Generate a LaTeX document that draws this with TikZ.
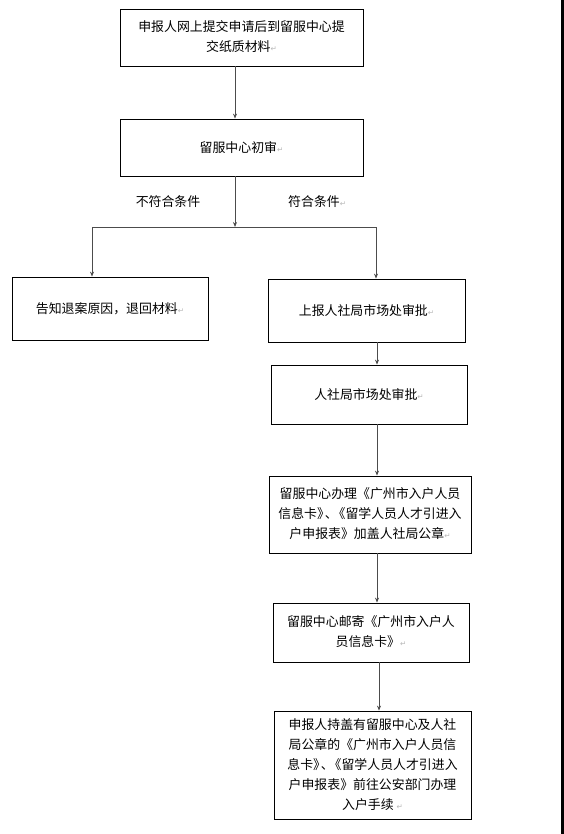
\documentclass[tikz,border=0pt]{standalone}
\usepackage{fontspec}
\usepackage{xcolor}
\usepackage{tikz}
\usetikzlibrary{positioning, arrows.meta}
\newfontfamily\cjk{Noto Sans CJK SC}
\newfontfamily\symfont{DejaVu Sans}
\newcommand{\retmark}{{\symfont\color{gray!55}\fontsize{7.5}{7.5}\selectfont ↵}}
\newcommand{\dunhao}{》\kern-.4em、\kern-.4em《}

\begin{document}
\begin{tikzpicture}[
    x=1pt, y=-1pt,
    proc/.style={rectangle, draw=black, line width=0.8pt, inner sep=0pt, text centered, font=\cjk\fontsize{12.9}{20}\selectfont},
    cond/.style={inner sep=0pt, font=\cjk\fontsize{12.9}{20}\selectfont},
    arr/.style={draw=black!70, line width=0.8pt, -{Stealth[length=5pt, width=4pt]}},
    link/.style={draw=black!70, line width=0.8pt}
]

\useasboundingbox (0,0) rectangle (564,834);
\fill[white] (0,0) rectangle (564,834);
\fill[black] (560.5,0) rectangle (564,834);

\node[proc, minimum width=243pt, minimum height=57pt] (submit) at (241.5, 37.5) {
    \begin{tabular}{@{}c@{}}
    申报人网上提交申请后到留服中心提 \\
    交纸质材料\retmark
    \end{tabular}
};

\node[proc, minimum width=243pt, minimum height=57pt] (check) at (241.5, 147.5) {留服中心初审\retmark};

\node[proc, minimum width=196pt, minimum height=63pt] (reject) at (110, 308.5) {告知退案原因，退回材料\retmark};

\node[proc, minimum width=197pt, minimum height=63pt] (report) at (366.5, 310.5) {上报人社局市场处审批\retmark};

\node[proc, minimum width=196pt, minimum height=59pt] (approve) at (369, 394.5) {人社局市场处审批\retmark};

\node[proc, minimum width=202pt, minimum height=77pt] (handle) at (370, 514.5) {
    \begin{tabular}{@{}c@{}}
    留服中心办理《广州市入户人员 \\
    信息卡\dunhao 留学人员人才引进入 \\
    户申报表》加盖人社局公章\retmark
    \end{tabular}
};

\node[proc, minimum width=196pt, minimum height=59pt] (mail) at (371, 632.5) {
    \begin{tabular}{@{}c@{}}
    留服中心邮寄《广州市入户人 \\
    员信息卡》\retmark
    \end{tabular}
};

\node[proc, minimum width=197pt, minimum height=108pt] (settle) at (372.5, 765) {
    \begin{tabular}{@{}c@{}}
    申报人持盖有留服中心及人社 \\
    局公章的《广州市入户人员信 \\
    息卡\dunhao 留学人员人才引进入 \\
    户申报表》前往公安部门办理 \\
    入户手续 \retmark
    \end{tabular}
};

\node[cond] (nopass) at (168, 202) {不符合条件};
\node[cond, anchor=west] (pass) at (288, 202) {符合条件\retmark};

\coordinate (stem) at (235, 0);
\coordinate (fork) at (235, 227);
\coordinate (forkL) at (92, 227);
\coordinate (forkR) at (376, 227);
\coordinate (col) at (377, 0);

\draw[arr] (submit.south -| stem) -- (check.north -| stem);
\draw[arr] (check.south -| stem) -- (fork);
\draw[link] (forkL) -- (forkR);
\draw[arr] (forkL) -- (forkL |- reject.north);
\draw[arr] (forkR) -- (forkR |- report.north);
\draw[arr] (report.south -| col) -- (approve.north -| col);
\draw[arr] (approve.south -| col) -- (handle.north -| col);
\draw[arr] (handle.south -| col) -- (mail.north -| col);
\draw[arr] ([xshift=2pt]mail.south -| col) -- ([xshift=2pt]settle.north -| col);

\end{tikzpicture}
\end{document}
